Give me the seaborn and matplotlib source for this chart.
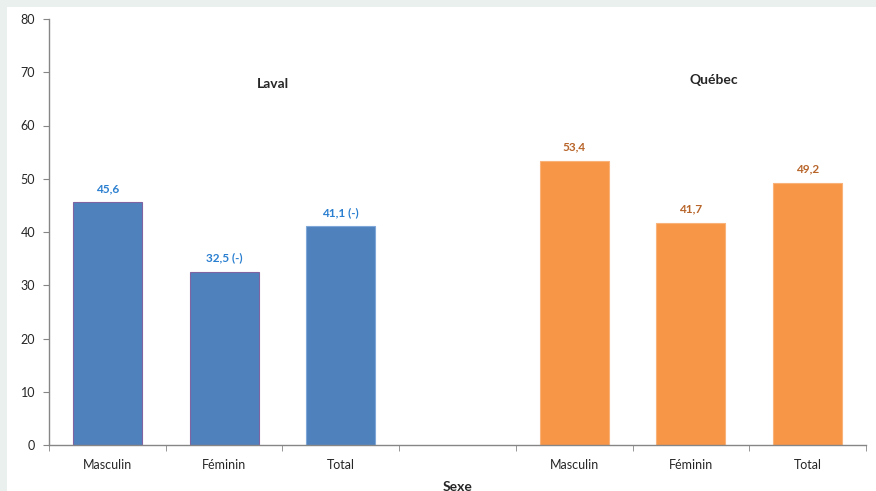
import matplotlib
matplotlib.use("Agg")
import matplotlib.pyplot as plt
import seaborn as sns
import pandas as pd
from matplotlib.patches import Rectangle

sns.set_style("white")
plt.rcParams['font.family'] = ['Lato', 'DejaVu Sans']

slots = ["L_M", "L_F", "L_T", "gap", "Q_M", "Q_F", "Q_T"]
tick_labels = ["Masculin", "Féminin", "Total", "", "Masculin", "Féminin", "Total"]
laval_values = [45.6, 32.5, 41.1]
quebec_values = [53.4, 41.7, 49.2]
laval_labels = ["45,6", "32,5 (-)", "41,1 (-)"]
quebec_labels = ["53,4", "41,7", "49,2"]
regions = ["Laval", "Québec"]

df = pd.DataFrame({
    "slot": slots[:3] + slots[4:],
    "value": laval_values + quebec_values,
    "region": [regions[0]] * 3 + [regions[1]] * 3,
    "label": laval_labels + quebec_labels,
})

colors = {"Laval": "#4F81BD", "Québec": "#F79646"}
label_colors = {"Laval": "#2A7FD0", "Québec": "#B8652A"}
edge_colors = {"Laval": ["#8064A2", "#8064A2", "#7FA8D8"], "Québec": ["#F9B27A"] * 3}

fig = plt.figure(figsize=(8.76, 4.91), dpi=100, facecolor="#e9f0ee")
bg = Rectangle((7 / 876, 0), 1, (491 - 7) / 491, transform=fig.transFigure,
               facecolor="white", edgecolor="none", zorder=-10)
fig.add_artist(bg)
ax = fig.add_axes([49 / 876, 46 / 491, (866 - 49) / 876, (445 - 19) / 491])
ax.set_facecolor("none")
ax.set_zorder(1)

sns.barplot(data=df, x="slot", y="value", hue="region", order=slots, palette=colors,
            dodge=False, width=0.59, ax=ax, legend=False, saturation=1, linewidth=0.8)

for cont, reg in zip(ax.containers, regions):
    sub = df[df.region == reg]
    for bar, ec in zip(cont, edge_colors[reg]):
        bar.set_edgecolor(ec)
    ax.bar_label(cont, labels=list(sub.label), padding=6, fontsize=8.5, fontweight="bold",
                 color=label_colors[reg])

ax.set_ylim(0, 80)
ax.set_xlim(-0.5, 6.5)
ax.set_yticks(range(0, 81, 10))
ax.set_xticks(range(7))
ax.set_xticklabels(tick_labels, fontsize=9)
ax.set_xticks([i + 0.5 for i in range(-1, 7)], minor=True)
ax.tick_params(axis="x", which="major", length=0, pad=10)
ax.tick_params(axis="x", which="minor", length=4, color="#868686", direction="out", bottom=True)
ax.tick_params(axis="y", length=4, color="#868686", direction="out", left=True, labelsize=9, pad=6)
ax.set_xlabel("Sexe", fontsize=10, fontweight="bold", labelpad=7)
ax.set_ylabel("")
for s in ["top", "right"]:
    ax.spines[s].set_visible(False)
for s in ["left", "bottom"]:
    ax.spines[s].set_color("#868686")
    ax.spines[s].set_linewidth(1)

ax.text(1.42, 67.8, "Laval", fontsize=10, fontweight="bold", ha="center", va="center")
ax.text(5.2, 68.5, "Québec", fontsize=10, fontweight="bold", ha="center", va="center")

fig.savefig("out.png", dpi=100, facecolor=fig.get_facecolor())
